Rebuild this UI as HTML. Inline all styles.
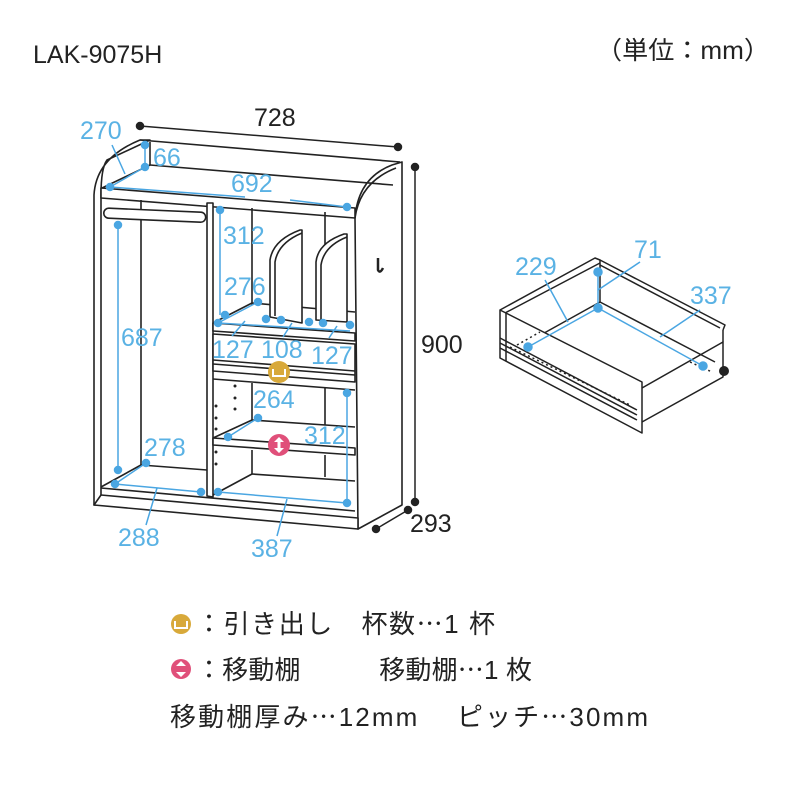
<!DOCTYPE html>
<html><head><meta charset="utf-8"><style>
html,body{margin:0;padding:0;background:#fff;}
svg{display:block;}
.t{font-family:"Liberation Sans","Noto Sans CJK JP",sans-serif;}
</style></head><body>
<svg width="800" height="800" viewBox="0 0 800 800" xmlns="http://www.w3.org/2000/svg">
<rect width="800" height="800" fill="#fff"/>
<text x="33" y="63" class="t" font-size="25" fill="#222">LAK-9075H</text>
<text x="596" y="59" class="t" font-size="25" fill="#222" textLength="174" lengthAdjust="spacingAndGlyphs">（単位：mm）</text>

<g stroke="#222" stroke-width="1.6" fill="#fff" stroke-linejoin="round">
  <path d="M355,218 Q358,178 392,165 L402,162 L402,505 L358,529 Z"/>
  <path d="M355,218 Q360,182 396,168"/>
  <path d="M94,505 L94,195 Q96,158 140,140 L150,140 L107,160 Q101,168 101,195 L101,505 Z"/>
  <path d="M140,140 L400,162" fill="none"/>
  <path d="M150,142 L150,165 L102,188" fill="none"/>
  <path d="M150,165 L393,185" fill="none"/>
  <path d="M101,188 L355,208 L355,218 L101,198 Z"/>
  <path d="M94,505 L358,529 L358,518 L101,495 Z"/>
  <path d="M101,488 L355,511" fill="none"/>
  <path d="M207,203 L213,203 L213,497 L207,496 Z"/>
  <path d="M141,200 L141,465 L207,470" fill="none"/>
  <path d="M101,487 L141,465" fill="none"/>
  <rect x="104" y="208" width="102" height="10" rx="5" transform="rotate(2.5 104 208)"/>
  <path d="M252,208 L252,305" fill="none"/>
  <path d="M325,212 L325,308" fill="none"/>
  <path d="M213,323 L252,303 L355,312" fill="none"/>
  <path d="M270,317 L270,260 Q273,240 300,230 L302,230 L302,323 Z"/>
  <path d="M275,316 L275,262 Q278,243 302,233" fill="none"/>
  <path d="M316,320 L316,262 Q318,243 344,234 L347,234 L347,322 Z"/>
  <path d="M321,320 L321,265 Q324,246 347,237" fill="none"/>
  <path d="M213,323 L355,333 L355,341 L213,331 Z"/>
  <path d="M213,334 L355,344 L355,382 L213,371 Z"/>
  <path d="M213,360 L355,371 M213,364 L355,375" fill="none"/>
  <path d="M213,379 L355,390" fill="none"/>
  <path d="M252,383 L252,420 M325,387 L325,425" fill="none"/>
  <path d="M213,438 L252,420 L355,427" fill="none"/>
  <path d="M213,438 L355,448 L355,455 L213,445 Z"/>
  <path d="M252,450 L252,474 M325,455 L325,477" fill="none"/>
  <path d="M213,495 L252,474 L355,481" fill="none"/>
  <path d="M378,258 L378,270 Q380,274 383,268" fill="none" stroke-width="2.5"/>
</g>
<g fill="#222">
  <circle cx="235" cy="386" r="1.5"/><circle cx="235" cy="398" r="1.5"/><circle cx="235" cy="409" r="1.5"/>
  <circle cx="216" cy="406" r="1.5"/><circle cx="216" cy="418" r="1.5"/><circle cx="216" cy="429" r="1.5"/>
  <circle cx="216" cy="452" r="1.5"/><circle cx="216" cy="464" r="1.5"/>
</g>

<g stroke="#222" stroke-width="1.5" fill="#222">
  <line x1="140" y1="126" x2="398" y2="147"/><circle cx="140" cy="126" r="3.5"/><circle cx="398" cy="147" r="3.5"/>
  <line x1="415" y1="167" x2="415" y2="502"/><circle cx="415" cy="167" r="3.5"/><circle cx="415" cy="502" r="3.5"/>
  <line x1="376" y1="529" x2="408" y2="510"/><circle cx="376" cy="529" r="3.5"/><circle cx="408" cy="510" r="3.5"/>
</g>
<text x="254" y="126" class="t" font-size="25" fill="#222">728</text>
<text x="421" y="353" class="t" font-size="25" fill="#222">900</text>
<text x="410" y="532" class="t" font-size="25" fill="#222">293</text>

<g stroke="#4aa6e2" stroke-width="1.5" fill="#4aa6e2">
  <line x1="110" y1="187" x2="245" y2="197"/><line x1="290" y1="200" x2="347" y2="207"/>
  <circle cx="110" cy="187" r="3.5"/><circle cx="347" cy="207" r="3.5"/>
  <line x1="145" y1="145" x2="145" y2="167"/><circle cx="145" cy="145" r="3.5"/><circle cx="145" cy="167" r="3.5"/>
  <line x1="110" y1="187" x2="145" y2="167"/>
  <line x1="112" y1="145" x2="125" y2="174"/>
  <line x1="118" y1="225" x2="118" y2="470"/><circle cx="118" cy="225" r="3.5"/><circle cx="118" cy="470" r="3.5"/>
  <line x1="115" y1="484" x2="146" y2="463"/><circle cx="115" cy="484" r="3.5"/><circle cx="146" cy="463" r="3.5"/>
  <line x1="115" y1="484" x2="201" y2="492"/><circle cx="201" cy="492" r="3.5"/>
  <line x1="157" y1="488" x2="146" y2="525"/>
  <line x1="218" y1="492" x2="347" y2="503"/><circle cx="218" cy="492" r="3.5"/><circle cx="347" cy="503" r="3.5"/>
  <line x1="287" y1="499" x2="277" y2="536"/>
  <line x1="347" y1="393" x2="347" y2="503"/><circle cx="347" cy="393" r="3.5"/>
  <line x1="220" y1="210" x2="220" y2="315"/><circle cx="220" cy="210" r="3.5"/>
  <line x1="218" y1="323" x2="258" y2="302"/><circle cx="225" cy="315" r="3.5"/><circle cx="258" cy="302" r="3.5"/>
  <line x1="218" y1="323" x2="350" y2="331"/>
  <circle cx="218" cy="323" r="3.5"/><circle cx="266" cy="319" r="3.5"/><circle cx="281" cy="320" r="3.5"/>
  <circle cx="309" cy="322" r="3.5"/><circle cx="323" cy="323" r="3.5"/><circle cx="350" cy="325" r="3.5"/>
  <line x1="245" y1="321" x2="232" y2="336"/><line x1="292" y1="323" x2="283" y2="337"/><line x1="337" y1="326" x2="329" y2="338"/>
  <line x1="228" y1="437" x2="258" y2="418"/><circle cx="228" cy="437" r="3.5"/><circle cx="258" cy="418" r="3.5"/>
</g>
<g class="t" font-size="25" fill="#5ab2e4">
  <text x="80" y="139">270</text>
  <text x="153" y="166">66</text>
  <text x="231" y="192">692</text>
  <text x="223" y="244">312</text>
  <text x="224" y="295">276</text>
  <text x="121" y="346">687</text>
  <text x="212" y="358">127</text>
  <text x="261" y="358">108</text>
  <text x="311" y="364">127</text>
  <text x="253" y="408">264</text>
  <text x="304" y="444">312</text>
  <text x="144" y="456">278</text>
  <text x="118" y="546">288</text>
  <text x="251" y="557">387</text>
</g>
<circle cx="279" cy="372" r="11" fill="#d8a93a"/>
<path d="M273,369 L273,376 L285,376 L285,369" fill="none" stroke="#fff" stroke-width="2"/>
<circle cx="279" cy="445" r="11" fill="#e0507a"/>
<path d="M279,437 L274,442 L284,442 Z M279,453 L274,448 L284,448 Z" fill="#fff"/>
<rect x="277.5" y="441" width="3" height="8" fill="#fff"/>

<g stroke="#222" stroke-width="1.5" fill="none" stroke-linejoin="round">
  <path d="M500,310 L595,258 L600,260 L600,302"/>
  <path d="M505,313 L600,263"/>
  <path d="M600,260 L725,325 L723,330"/>
  <path d="M600,265 L720,328"/>
  <path d="M600,302 L510,352"/>
  <path d="M600,302 L715,362"/>
  <path d="M642,388 L723,342 L723,377 L642,422"/>
  <path d="M723,330 L723,342"/>
  <path d="M500,310 L642,382 L642,433 L500,358 Z" fill="#fff"/>
  <path d="M506,313 L506,361"/>
  <path d="M500,338 L637,410 M500,343 L637,415 M500,348 L637,420"/>
</g>
<circle cx="724" cy="371" r="5" fill="#222"/>
<g stroke="#222" stroke-width="1.5" stroke-dasharray="2 3">
  <line x1="517" y1="345" x2="540" y2="332"/><line x1="690" y1="362" x2="712" y2="372"/>
  <line x1="510" y1="347" x2="630" y2="405"/>
</g>
<g stroke="#4aa6e2" stroke-width="1.5" fill="#4aa6e2">
  <line x1="528" y1="347" x2="598" y2="308"/><line x1="598" y1="308" x2="703" y2="366"/>
  <line x1="598" y1="272" x2="598" y2="308"/>
  <circle cx="528" cy="347" r="4"/><circle cx="598" cy="308" r="4"/><circle cx="598" cy="272" r="4"/><circle cx="703" cy="366" r="4"/>
  <line x1="545" y1="280" x2="568" y2="322"/>
  <line x1="598" y1="290" x2="640" y2="262"/>
  <line x1="660" y1="337" x2="700" y2="310"/>
</g>
<g class="t" font-size="25" fill="#5ab2e4">
  <text x="515" y="275">229</text>
  <text x="634" y="258">71</text>
  <text x="690" y="304">337</text>
</g>

<circle cx="181" cy="624" r="10" fill="#d8a93a"/>
<path d="M175,621 L175,628 L187,628 L187,621" fill="none" stroke="#fff" stroke-width="2"/>
<text x="196" y="633" class="t" font-size="26" fill="#222" textLength="299" lengthAdjust="spacing">：引き出し　杯数⋯1 杯</text>
<circle cx="181" cy="669" r="10" fill="#e0507a"/>
<path d="M181,661 L176,666 L186,666 Z M181,677 L176,672 L186,672 Z" fill="#fff"/>
<text x="196" y="679" class="t" font-size="26" fill="#222" textLength="336" lengthAdjust="spacing">：移動棚　　　移動棚⋯1 枚</text>
<text x="170" y="726" class="t" font-size="26" fill="#222" textLength="478" lengthAdjust="spacing">移動棚厚み⋯12mm　 ピッチ⋯30mm</text>
</svg>
</body></html>
